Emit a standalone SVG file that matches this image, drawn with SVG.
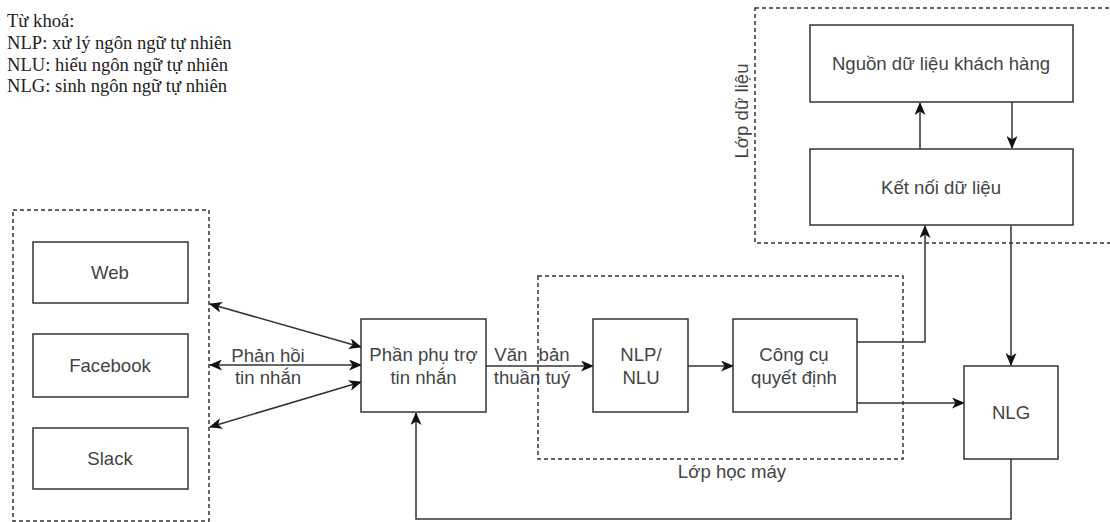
<svg xmlns="http://www.w3.org/2000/svg" width="1110" height="522" viewBox="0 0 1110 522">
<style>
.box{fill:#fff;stroke:#333;stroke-width:1.5}
.grp{fill:none;stroke:#333;stroke-width:1.5;stroke-dasharray:4 3}
.ln{fill:none;stroke:#333;stroke-width:1.5}
.t{font-family:"Liberation Sans",Arial,sans-serif;font-size:18.6px;fill:#444;text-anchor:middle}
.leg{font-family:"Liberation Serif","Times New Roman",serif;font-size:18.6px;fill:#222}
</style>
<defs>
<marker id="arr" viewBox="0 0 13 11" refX="12" refY="5.5" markerWidth="13" markerHeight="11" markerUnits="userSpaceOnUse" orient="auto-start-reverse">
<path d="M0,0 L13,5.5 L0,11 L3.5,5.5 z" fill="#111"/>
</marker>
</defs>
<rect width="1110" height="522" fill="#fff"/>

<g id="legend">
<text class="leg" x="7" y="27">Từ khoá:</text>
<text class="leg" x="7" y="49">NLP: xử lý ngôn ngữ tự nhiên</text>
<text class="leg" x="7" y="70.5">NLU: hiểu ngôn ngữ tự nhiên</text>
<text class="leg" x="7" y="92">NLG: sinh ngôn ngữ tự nhiên</text>
</g>

<g id="channels-group">
<rect class="grp" x="13" y="210" width="196" height="311"/>
</g>
<g id="ml-layer">
<rect class="grp" x="538" y="276" width="365" height="183"/>
<text class="t" x="732" y="478">Lớp học máy</text>
</g>
<g id="data-layer">
<rect class="grp" x="755" y="8" width="365" height="235"/>
<text class="t" transform="translate(748,111) rotate(-90)">Lớp dữ liệu</text>
</g>

<g id="connectors">
<line class="ln" x1="210" y1="304" x2="361" y2="347" marker-start="url(#arr)" marker-end="url(#arr)"/>
<line class="ln" x1="210" y1="365" x2="361" y2="365" marker-start="url(#arr)" marker-end="url(#arr)"/>
<line class="ln" x1="210" y1="427" x2="361" y2="382" marker-start="url(#arr)" marker-end="url(#arr)"/>
<line class="ln" x1="486" y1="366" x2="593" y2="366" marker-end="url(#arr)"/>
<line class="ln" x1="688" y1="366" x2="733" y2="366" marker-end="url(#arr)"/>
<line class="ln" x1="857" y1="403" x2="964" y2="403" marker-end="url(#arr)"/>
<polyline class="ln" points="857,342 925,342 925,226" marker-end="url(#arr)"/>
<line class="ln" x1="920" y1="149" x2="920" y2="103" marker-end="url(#arr)"/>
<line class="ln" x1="1012" y1="102" x2="1012" y2="148" marker-end="url(#arr)"/>
<line class="ln" x1="1011" y1="226" x2="1011" y2="365" marker-end="url(#arr)"/>
<polyline class="ln" points="1011,459 1011,519 416,519 416,413" marker-end="url(#arr)"/>
<text class="t" x="268" y="362">Phản hồi</text>
<text class="t" x="268" y="384">tin nhắn</text>
<text class="t" x="532" y="361" word-spacing="6">Văn bản</text>
<text class="t" x="532" y="384">thuần tuý</text>
</g>

<g id="web"><rect class="box" x="33" y="242" width="155" height="61"/><text class="t" x="110" y="279">Web</text></g>
<g id="facebook"><rect class="box" x="33" y="334" width="155" height="63"/><text class="t" x="110" y="372">Facebook</text></g>
<g id="slack"><rect class="box" x="33" y="428" width="155" height="61"/><text class="t" x="110" y="465">Slack</text></g>
<g id="message-backend"><rect class="box" x="361" y="319" width="125" height="93"/><text class="t" x="423.5" y="361">Phần phụ trợ</text><text class="t" x="423.5" y="384">tin nhắn</text></g>
<g id="nlp-nlu"><rect class="box" x="593" y="319" width="95" height="93"/><text class="t" x="641" y="361">NLP/</text><text class="t" x="641" y="384">NLU</text></g>
<g id="decision-engine"><rect class="box" x="733" y="319" width="124" height="93"/><text class="t" x="794" y="361">Công cụ</text><text class="t" x="794" y="384">quyết định</text></g>
<g id="nlg"><rect class="box" x="964" y="366" width="94" height="93"/><text class="t" x="1011" y="419">NLG</text></g>
<g id="customer-data"><rect class="box" x="810" y="25" width="263" height="77"/><text class="t" x="941" y="70">Nguồn dữ liệu khách hàng</text></g>
<g id="data-connector"><rect class="box" x="810" y="149" width="263" height="76"/><text class="t" x="941" y="194">Kết nối dữ liệu</text></g>
</svg>
